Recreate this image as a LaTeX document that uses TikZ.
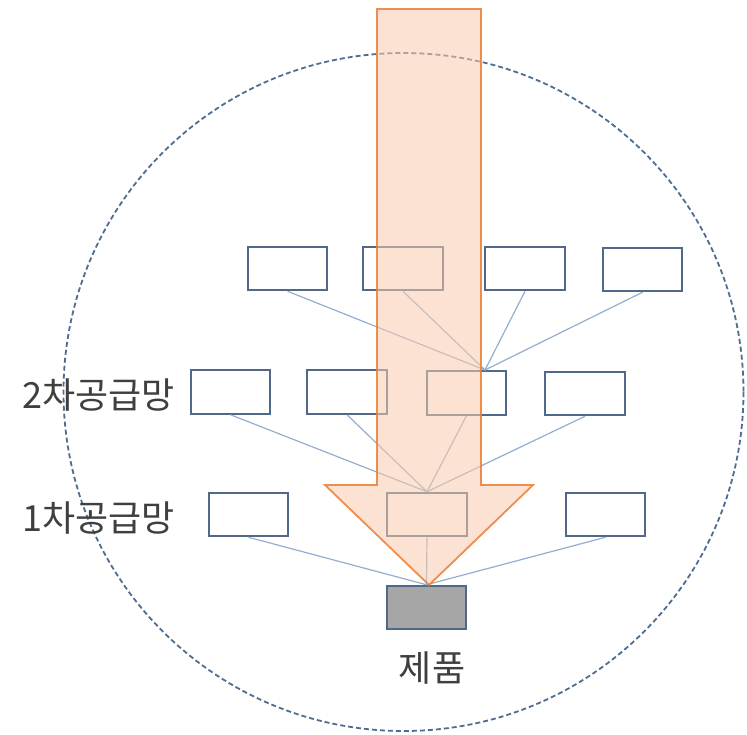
\documentclass[tikz,border=0pt]{standalone}
\usepackage{fontspec}
\newfontfamily\kr{Noto Sans CJK KR}
\definecolor{boxline}{HTML}{50698A}
\definecolor{linkline}{HTML}{93AED0}
\definecolor{circline}{HTML}{4E6D90}
\definecolor{arrfill}{HTML}{F8CBAD}
\definecolor{arrline}{HTML}{ED7D31}
\definecolor{prodfill}{HTML}{A6A6A6}
\definecolor{txt}{HTML}{3F3F3F}
\tikzset{
  sbox/.style={draw=boxline, line width=2pt, fill=white, minimum width=79.5pt, minimum height=43.5pt, inner sep=0pt},
  prodbox/.style={sbox, fill=prodfill},
  link/.style={draw=linkline, line width=1.2pt},
  lbl/.style={text=txt, font=\kr\fontsize{36}{40}\selectfont, inner sep=0pt},
}
\begin{document}
\begin{tikzpicture}[x=1pt, y=-1pt]
\useasboundingbox (0,0) rectangle (747,734);
% dashed circle
\draw[circline, line width=1.8pt, dash pattern=on 5pt off 3pt] (403.5,392) ellipse [x radius=340, y radius=339];
% boxes
\node[sbox] (b31) at (287.5,268.5) {};
\node[sbox] (b32) at (403,268.5) {};
\node[sbox] (b33) at (525,268.5) {};
\node[sbox] (b34) at (642.5,269.5) {};
\node[sbox] (b21) at (230.5,392) {};
\node[sbox] (b22) at (347,392) {};
\node[sbox] (b23) at (466.5,393) {};
\node[sbox] (b24) at (585,393.5) {};
\node[sbox] (b11) at (248.5,514.5) {};
\node[sbox] (b12) at (427,514.5) {};
\node[sbox] (b13) at (605.5,514.5) {};
\node[prodbox] (prod) at (426.5,607.5) {};
\coordinate (hub3) at (485,370);
% links
\foreach \b in {b31,b32,b33,b34} \draw[link] (\b.south) -- (hub3);
\foreach \b in {b21,b22,b23,b24} \draw[link] (\b.south) -- (b12.north);
\foreach \b in {b11,b12,b13} \draw[link] (\b.south) -- (prod.north);
% big arrow
\draw[draw=arrline, draw opacity=0.85, line width=1.8pt, fill=arrfill, fill opacity=0.55, line join=miter]
  (377,9) -- (481,9) -- (481,485) -- (533,485) -- (429,585) -- (325,485) -- (377,485) -- cycle;
% labels
\node[lbl, anchor=east] (l2) at (175,395) {2차공급망};
\node[lbl, anchor=east] (l1) at (175,518) {1차공급망};
\node[lbl] (lp) at (432,668) {제품};
\end{tikzpicture}
\end{document}
